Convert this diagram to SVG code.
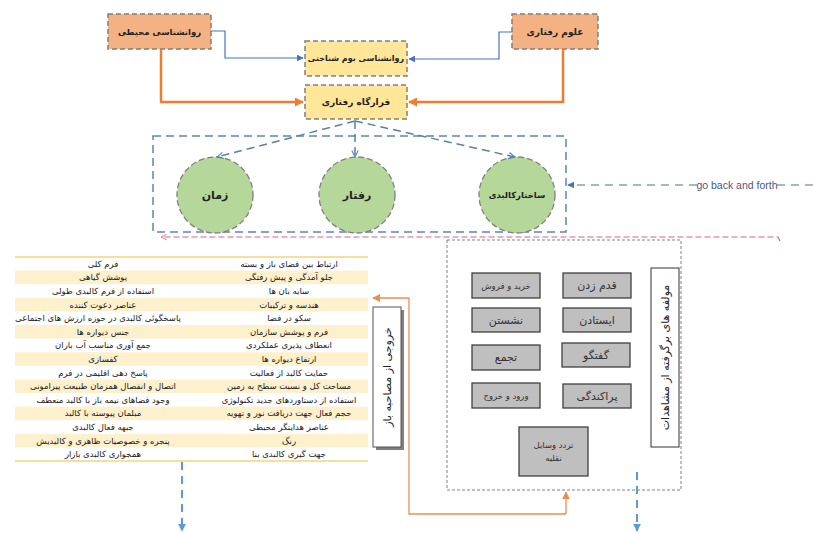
<svg xmlns="http://www.w3.org/2000/svg" width="813" height="533" viewBox="0 0 813 533">
<defs>
<marker id="ab" viewBox="0 0 10 10" refX="9" refY="5" markerWidth="7" markerHeight="7" orient="auto-start-reverse" markerUnits="userSpaceOnUse"><path d="M0,0 L10,5 L0,10 z" fill="#4472c4"/></marker>
<marker id="ao" viewBox="0 0 10 10" refX="9" refY="5" markerWidth="9" markerHeight="9" orient="auto-start-reverse" markerUnits="userSpaceOnUse"><path d="M0,0 L10,5 L0,10 z" fill="#ed7d31"/></marker>
<marker id="ao2" viewBox="0 0 10 10" refX="9" refY="5" markerWidth="8" markerHeight="8" orient="auto-start-reverse" markerUnits="userSpaceOnUse"><path d="M0,0 L10,5 L0,10 z" fill="#e8914f"/></marker>
<marker id="av" viewBox="0 0 10 10" refX="9" refY="5" markerWidth="8" markerHeight="8" orient="auto" markerUnits="userSpaceOnUse"><path d="M1,1 L9,5 L1,9" fill="none" stroke="#5a7fa8" stroke-width="1.3"/></marker>
<marker id="abd" viewBox="0 0 10 10" refX="9" refY="5" markerWidth="8" markerHeight="8" orient="auto" markerUnits="userSpaceOnUse"><path d="M0,0 L10,5 L0,10 z" fill="#5b9bd5"/></marker>
<marker id="ar" viewBox="0 0 10 10" refX="9" refY="5" markerWidth="7" markerHeight="7" orient="auto" markerUnits="userSpaceOnUse"><path d="M1,1 L9,5 L1,9" fill="none" stroke="#e0607a" stroke-width="1.2"/></marker>
</defs>
<style>
text{font-family:"DejaVu Sans","Noto Sans",sans-serif;fill:#222;text-anchor:middle;dominant-baseline:central}
.org{fill:#f4b183;stroke:#7f7f7f;stroke-width:1.5;stroke-dasharray:5,3}
.yel{fill:#ffe699;stroke:#7f7f7f;stroke-width:1.5;stroke-dasharray:5,3}
.cir{fill:#b6d79a;stroke:#7f7f7f;stroke-width:1.3;stroke-dasharray:6,3}
.gb{fill:#bfbfbf;stroke:#404040;stroke-width:1.3}
.gt{font-size:11px;fill:#333}
.gs{font-size:8.5px;fill:#333}
.tb{font-size:8.5px;fill:#1a1a1a}
.sh{fill:#fdf0cc}
.hd{font-weight:bold}
</style>

<g id="n-env-psych"><rect class="org" x="108" y="14" width="103" height="35"/><text class="hd" x="159.5" y="31.5" font-size="8.5">روانشناسی محیطی</text></g>
<g id="n-behav-sci"><rect class="org" x="512" y="14" width="86" height="35"/><text class="hd" x="555" y="31.5" font-size="9">علوم رفتاری</text></g>
<g id="n-eco-psych"><rect class="yel" x="305" y="41" width="102" height="35"/><text class="hd" x="356" y="58.5" font-size="8">روانشناسی بوم شناختی</text></g>
<g id="n-setting"><rect class="yel" x="305" y="85" width="102" height="34"/><text class="hd" x="356" y="102" font-size="9">قرارگاه رفتاری</text></g>

<g id="n-container"><rect x="153" y="136" width="413" height="96" fill="none" stroke="#5b87b5" stroke-width="1.5" stroke-dasharray="8,5"/></g>
<g id="n-time"><circle class="cir" cx="215" cy="195" r="38"/><text x="215" y="195" font-size="11" font-weight="bold">زمان</text></g>
<g id="n-behavior"><circle class="cir" cx="357" cy="195" r="38"/><text x="357" y="195" font-size="11" font-weight="bold">رفتار</text></g>
<g id="n-physical"><circle class="cir" cx="517" cy="195" r="38"/><text x="517" y="195" font-size="8.5" font-weight="bold">ساختارکالبدی</text></g>

<g id="n-table">
<line x1="15" y1="257" x2="368" y2="257" stroke="#f2d57a" stroke-width="1.5"/>
<rect class="sh" x="15" y="270.6" width="353" height="13.6"/>
<rect class="sh" x="15" y="297.8" width="353" height="13.6"/>
<rect class="sh" x="15" y="325" width="353" height="13.6"/>
<rect class="sh" x="15" y="352.2" width="353" height="13.6"/>
<rect class="sh" x="15" y="379.4" width="353" height="13.6"/>
<rect class="sh" x="15" y="406.6" width="353" height="13.6"/>
<rect class="sh" x="15" y="433.8" width="353" height="13.6"/>
<line x1="15" y1="461" x2="368" y2="461" stroke="#f2d57a" stroke-width="1.5"/>
<text class="tb" x="103" y="263.8">فرم کلی</text>
<text class="tb" x="103" y="277.4">پوشش گیاهی</text>
<text class="tb" x="103" y="291">استفاده از فرم کالبدی طولی</text>
<text class="tb" x="103" y="304.6">عناصر دعوت کننده</text>
<text class="tb" x="98" y="318.2">پاسخگوئی کالبدی در حوزه ارزش های اجتماعی</text>
<text class="tb" x="103" y="331.8">جنس دیواره ها</text>
<text class="tb" x="103" y="345.4">جمع آوری مناسب آب باران</text>
<text class="tb" x="103" y="359">کفسازی</text>
<text class="tb" x="103" y="372.6">پاسخ دهی اقلیمی در فرم</text>
<text class="tb" x="103" y="386.2">اتصال و انفصال همزمان طبیعت پیرامونی</text>
<text class="tb" x="103" y="399.8">وجود فضاهای نیمه باز با کالبد منعطف</text>
<text class="tb" x="103" y="413.4">مبلمان پیوسته با کالبد</text>
<text class="tb" x="103" y="427">جبهه فعال کالبدی</text>
<text class="tb" x="103" y="440.6">پنجره و خصوصیات ظاهری و کالبدیش</text>
<text class="tb" x="103" y="454.2">همجواری کالبدی بازار</text>
<text class="tb" x="289" y="263.8">ارتباط بین فضای باز و بسته</text>
<text class="tb" x="289" y="277.4">جلو آمدگی و پیش رفتگی</text>
<text class="tb" x="289" y="291">سایه بان ها</text>
<text class="tb" x="289" y="304.6">هندسه و ترکیبات</text>
<text class="tb" x="289" y="318.2">سکو در فضا</text>
<text class="tb" x="289" y="331.8">فرم و پوشش سازمان</text>
<text class="tb" x="289" y="345.4">انعطاف پذیری عملکردی</text>
<text class="tb" x="289" y="359">ارتفاع دیواره ها</text>
<text class="tb" x="289" y="372.6">حمایت کالبد از فعالیت</text>
<text class="tb" x="289" y="386.2">مساحت کل و نسبت سطح به زمین</text>
<text class="tb" x="289" y="399.8">استفاده از دستاوردهای جدید تکنولوژی</text>
<text class="tb" x="289" y="413.4">حجم فعال جهت دریافت نور و تهویه</text>
<text class="tb" x="289" y="427">عناصر هدایتگر محیطی</text>
<text class="tb" x="289" y="440.6">رنگ</text>
<text class="tb" x="289" y="454.2">جهت گیری کالبدی بنا</text>
</g>

<g id="n-interview">
<rect x="376" y="310" width="28" height="140" fill="#7f7f7f"/>
<rect x="373" y="307" width="28" height="140" fill="#fff" stroke="#555" stroke-width="1"/>
<text x="387" y="377" font-size="11" transform="rotate(-90 387 377)">خروجی از  مصاحبه باز</text>
</g>

<g id="n-observ">
<rect x="447" y="240" width="234" height="250" fill="none" stroke="#808080" stroke-width="1" stroke-dasharray="3,2"/>
<g id="n-walk"><rect class="gb" x="563" y="273" width="68" height="25"/><text class="gt" x="597" y="285.5">قدم زدن</text></g>
<g id="n-trade"><rect class="gb" x="472" y="273" width="68" height="25"/><text class="gs" x="506" y="285.5">خرید و فروش</text></g>
<g id="n-sit"><rect class="gb" x="472" y="308" width="68" height="24"/><text class="gt" x="506" y="320">نشستن</text></g>
<g id="n-stand"><rect class="gb" x="563" y="308" width="68" height="24"/><text class="gt" x="597" y="320">ایستادن</text></g>
<g id="n-gather"><rect class="gb" x="472" y="345" width="68" height="25"/><text class="gt" x="506" y="357.5">تجمع</text></g>
<g id="n-talk"><rect class="gb" x="562" y="343" width="68" height="24"/><text class="gt" x="596" y="355" font-size="12">گفتگو</text></g>
<g id="n-entry"><rect class="gb" x="472" y="383" width="68" height="25"/><text class="gs" x="506" y="395.5">ورود و خروج</text></g>
<g id="n-disperse"><rect class="gb" x="563" y="384" width="68" height="24"/><text class="gt" x="597" y="396" font-size="12">پراکندگی</text></g>
<g id="n-traffic"><rect class="gb" x="519" y="427" width="69" height="49"/><text class="gs" x="553.5" y="445" font-size="9">تردد وسایل</text><text class="gs" x="553.5" y="458" font-size="9">نقلیه</text></g>
<g id="n-obs-label"><rect x="651" y="268" width="28" height="179" fill="#fff" stroke="#333" stroke-width="1"/><text x="665" y="357.5" font-size="11" transform="rotate(-90 665 357.5)">مولفه های برگرفته از  مشاهدات</text></g>
</g>

<g id="connectors" fill="none">
<path d="M211,31 H225 V58 H303" stroke="#4472c4" stroke-width="1.2" marker-end="url(#ab)"/>
<path d="M512,32 H499 V59 H409" stroke="#4472c4" stroke-width="1.2" marker-end="url(#ab)"/>
<path d="M161,49 V102 H303" stroke="#ed7d31" stroke-width="2.5" marker-end="url(#ao)"/>
<path d="M563,48 V102 H409" stroke="#ed7d31" stroke-width="2.5" marker-end="url(#ao)"/>
<path d="M355,121 L217,157" stroke="#5a7fa8" stroke-width="1.5" stroke-dasharray="8,5" marker-end="url(#av)"/>
<path d="M355,121 V157" stroke="#5a7fa8" stroke-width="1.5" stroke-dasharray="8,5" marker-end="url(#av)"/>
<path d="M355,121 L515,157" stroke="#5a7fa8" stroke-width="1.5" stroke-dasharray="8,5" marker-end="url(#av)"/>
<path d="M780,241 L778,237 H161" stroke="#e0607a" stroke-width="1.2" stroke-dasharray="6,3" marker-end="url(#ar)"/>
<path d="M813,185 H777" stroke="#4a6fa8" stroke-width="1.2" stroke-dasharray="8,6"/>
<path d="M697,185 H568" stroke="#4a6fa8" stroke-width="1.2" stroke-dasharray="8,6" marker-end="url(#ab)"/>
<path d="M566,514 V492" stroke="#e8914f" stroke-width="1.3" marker-end="url(#ao2)"/>
<path d="M566,514 H409 V298 H373" stroke="#e8914f" stroke-width="1.3" marker-end="url(#ao2)"/>
<path d="M182,462 V531" stroke="#5b9bd5" stroke-width="2" stroke-dasharray="8,6" marker-end="url(#abd)"/>
<path d="M637,472 V531" stroke="#5b9bd5" stroke-width="2" stroke-dasharray="8,6" marker-end="url(#abd)"/>
</g>
<text x="737" y="185" font-size="10.5" style="fill:#4a5a7a;font-family:'Liberation Sans',sans-serif">go back and forth</text>
</svg>
